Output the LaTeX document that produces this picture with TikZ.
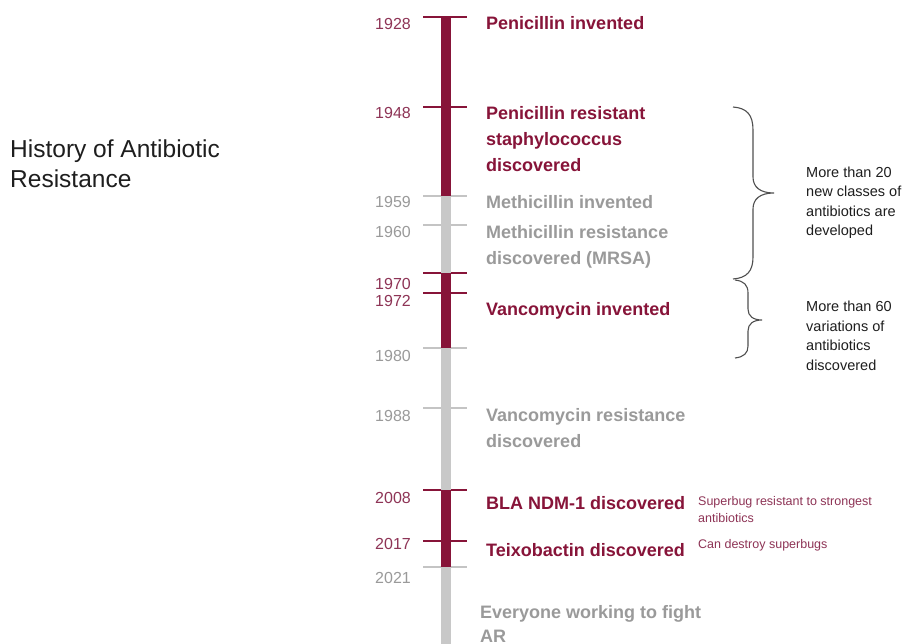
\documentclass[tikz,border=0pt]{standalone}
\usepackage{fontspec}
\setmainfont{Liberation Sans}
\definecolor{maroon}{HTML}{871439}
\definecolor{yearred}{HTML}{8E3456}
\definecolor{greytxt}{HTML}{9A9A9A}
\definecolor{greybar}{HTML}{C8C8C8}
\definecolor{greytick}{HTML}{C4C4C4}
\definecolor{titlec}{HTML}{1E1E1E}
\definecolor{bracec}{HTML}{505050}
\begin{document}
\begin{tikzpicture}[x=1pt,y=-1pt,
  year/.style={anchor=base east, inner sep=0pt, font=\fontsize{16}{18}\selectfont},
  yr/.style={year, text=yearred},
  yg/.style={year, text=greytxt},
  ev/.style={anchor=base west, inner sep=0pt, align=left, font=\fontsize{18}{26}\selectfont\bfseries},
  er/.style={ev, text=maroon},
  eg/.style={ev, text=greytxt},
  note/.style={anchor=base west, inner sep=0pt, align=left, text=yearred, font=\fontsize{12.5}{17}\selectfont},
  side/.style={anchor=base west, inner sep=0pt, align=left, text=titlec, font=\fontsize{14.5}{19.5}\selectfont},
  tickr/.style={draw=maroon, line width=1.3pt},
  tickg/.style={draw=greytick, line width=1.3pt},
  barr/.style={draw=maroon, line width=10pt},
  barg/.style={draw=greybar, line width=10pt},
  bracestyle/.style={draw=bracec, line width=1.1pt}]
\useasboundingbox (0,0) rectangle (912,644);
\fill[white] (0,0) rectangle (912,644);

% timeline coordinates
\coordinate (t1928) at (446,17);
\coordinate (t1948) at (446,107);
\coordinate (t1959) at (446,196);
\coordinate (t1960) at (446,225);
\coordinate (t1970) at (446,273);
\coordinate (t1972) at (446,293);
\coordinate (t1980) at (446,348);
\coordinate (t1988) at (446,408);
\coordinate (t2008) at (446,490);
\coordinate (t2017) at (446,541);
\coordinate (t2021) at (446,567);
\coordinate (tend) at (446,644);

% ticks
\foreach \t in {1928,1948,1970,1972,2008,2017}
  \draw[tickr] ([xshift=-23pt]t\t) -- ([xshift=21pt]t\t);
\foreach \t in {1959,1960,1980,1988,2021}
  \draw[tickg] ([xshift=-23pt]t\t) -- ([xshift=21pt]t\t);

% bar
\draw[barg] (t1959) -- (t1970);
\draw[barg] (t1980) -- (t2008);
\draw[barg] (t2021) -- (tend);
\draw[barr] (t1928) -- (t1959);
\draw[barr] (t1970) -- (t1980);
\draw[barr] (t2008) -- (t2021);

% years
\node[yr] (y1928) at (411,30) {1928};
\node[yr] (y1948) at (411,119) {1948};
\node[yg] (y1959) at (411,208) {1959};
\node[yg] (y1960) at (411,238) {1960};
\node[yr] (y1970) at (411,289) {1970};
\node[yr] (y1972) at (411,306) {1972};
\node[yg] (y1980) at (411,361) {1980};
\node[yg] (y1988) at (411,421) {1988};
\node[yr] (y2008) at (411,503) {2008};
\node[yr] (y2017) at (411,549) {2017};
\node[yg] (y2021) at (411,583) {2021};

% events (base anchor = baseline of the last line)
\node[er] (e1928) at (486,30) {Penicillin invented};
\node[er] (e1948) at (486,172) {Penicillin resistant\\staphylococcus\\discovered};
\node[eg] (e1959) at (486,209) {Methicillin invented};
\node[eg] (e1960) at (486,265) {Methicillin resistance\\discovered (MRSA)};
\node[er] (e1972) at (486,315) {Vancomycin invented};
\node[eg] (e1988) at (486,447) {Vancomycin resistance\\discovered};
\node[er] (e2008) at (486,509) {BLA NDM-1 discovered};
\node[er] (e2017) at (486,556) {Teixobactin discovered};
\node[eg, font=\fontsize{18}{24}\selectfont\bfseries] (e2021) at (480,642) {Everyone working to fight\\AR};

% notes
\node[note] (n2008) at (698,522) {Superbug resistant to strongest\\antibiotics};
\node[note] (n2017) at (698,548) {Can destroy superbugs};

% title
\node[anchor=base west, inner sep=0pt, align=left, text=titlec,
      font=\fontsize{24.5}{30}\selectfont] (title) at (10,188) {History of Antibiotic\\Resistance};

% braces
\coordinate (b1top) at (733,107);
\coordinate (b1tip) at (774,193);
\coordinate (b1bot) at (733,279);
\draw[bracestyle] (b1top) .. controls (747,108) and (753,115) .. (753,130)
  -- (753,177) .. controls (753,187) and (760,193) .. (b1tip)
  .. controls (760,193) and (753,199) .. (753,209)
  -- (753,257) .. controls (753,271) and (747,278) .. (b1bot);
\coordinate (b2top) at (735,280);
\coordinate (b2tip) at (762,320);
\coordinate (b2bot) at (735,358);
\draw[bracestyle] (b2top) .. controls (744,281) and (748,285) .. (748,293)
  -- (748,309) .. controls (748,316) and (753,320) .. (b2tip)
  .. controls (753,320) and (748,324) .. (748,331)
  -- (748,346) .. controls (748,353) and (744,357) .. (b2bot);

\node[side] (s1) at (806,236) {More than 20\\new classes of\\antibiotics are\\developed};
\node[side] (s2) at (806,370) {More than 60\\variations of\\antibiotics\\discovered};
\end{tikzpicture}
\end{document}
